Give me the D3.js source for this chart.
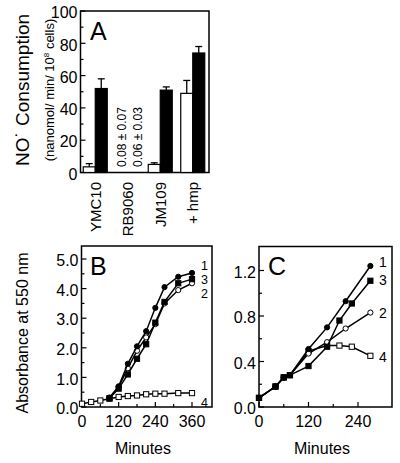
<!DOCTYPE html>
<html><head><meta charset="utf-8">
<script src="https://cdn.jsdelivr.net/npm/d3@7"></script>
<style>body{margin:0;background:#fff}svg{display:block;font-family:"Liberation Sans",Arial,Helvetica,sans-serif}</style>
</head><body><svg id="c" width="400" height="463"></svg>
<script>
// Panel A
const catsA = ["YMC10","RB9060","JM109","+ hmp"];
const openA = [3.5, null, 5, 49];
const openErrA = [5.5, null, 6, 57];
const filledA = [52, null, 51, 74];
const filledErrA = [58, null, 53, 78];
const ticksA = [0,20,40,60,80,100];
const notesA = ["0.08 \u00b1 0.07","0.06 \u00b1 0.03"];
// Panel B
const timesB4 = [0,30,60,90,120,150,180,210,240,270,315,360];
const B4 = [0.11,0.17,0.22,0.28,0.34,0.37,0.39,0.43,0.45,0.45,0.47,0.47];
const timesB = [90,120,150,180,210,240,270,315,360];
const B1 = [0.32,0.70,1.46,2.05,2.56,3.35,4.05,4.40,4.53];
const B3 = [0.30,0.62,1.10,1.63,2.12,2.85,3.55,4.18,4.32];
const B2 = [0.30,0.67,1.31,1.90,2.35,2.80,3.50,3.95,4.18];
const ticksBy = [0,1,2,3,4,5];
const ticksBx = [0,120,240,360];
// Panel C
const timesC4 = [0,40,60,75,120,165,195,225,270];
const C4 = [0.08,0.18,0.26,0.28,0.49,0.54,0.54,0.53,0.45];
const timesC1 = [0,40,60,75,120,165,210,270];
const C1 = [0.08,0.18,0.26,0.28,0.51,0.70,0.93,1.24];
const timesC3 = [0,40,60,75,120,165,195,225,270];
const C3 = [0.08,0.18,0.26,0.28,0.36,0.53,0.76,0.91,1.11];
const timesC2 = [0,40,60,75,120,165,210,270];
const C2 = [0.08,0.18,0.26,0.28,0.47,0.57,0.69,0.83];
const ticksCy = [0,0.4,0.8,1.2];
const ticksCx = [0,120,240];

const svg = d3.select("#c");

function frame(x0,x1,y0,y1){
  svg.append("rect").attr("x",x0).attr("y",y0).attr("width",x1-x0).attr("height",y1-y0)
    .attr("fill","none").attr("stroke","#000").attr("stroke-width",1.5);
}
function yTicks(scale, x0, major, minor, fmt, fs){
  const g = svg.append("g");
  minor.forEach(v=>g.append("line").attr("x1",x0).attr("x2",x0+3).attr("y1",scale(v)).attr("y2",scale(v)).attr("stroke","#000").attr("stroke-width",1.2));
  major.forEach(v=>{
    g.append("line").attr("x1",x0).attr("x2",x0+5).attr("y1",scale(v)).attr("y2",scale(v)).attr("stroke","#000").attr("stroke-width",1.2);
    g.append("text").attr("x",x0-3).attr("y",scale(v)+1.5).attr("dy","0.36em").attr("text-anchor","end").attr("font-size",fs).text(fmt(v));
  });
}
function xTicks(scale, y0, major, minor, fs){
  const g = svg.append("g");
  minor.forEach(v=>g.append("line").attr("x1",scale(v)).attr("x2",scale(v)).attr("y1",y0).attr("y2",y0-3).attr("stroke","#000").attr("stroke-width",1.2));
  major.forEach(v=>{
    g.append("line").attr("x1",scale(v)).attr("x2",scale(v)).attr("y1",y0).attr("y2",y0-5).attr("stroke","#000").attr("stroke-width",1.2);
    g.append("text").attr("x",scale(v)).attr("y",y0+20).attr("text-anchor","middle").attr("font-size",fs).text(v);
  });
}

// ---------- Panel A ----------
const xA = d3.scaleBand().domain(catsA).range([79,209]);
const yA = d3.scaleLinear().domain([0,100]).range([172.5,11]);
frame(80.5,209,11,172.5);
yTicks(yA,80.5,ticksA,[10,30,50,70,90],d=>d,16);
const bw = 12;
catsA.forEach((c,i)=>{
  const cx = xA(c)+xA.bandwidth()/2;
  if(openA[i]!=null){
    [[cx-bw,openA[i],openErrA[i]],[cx,filledA[i],filledErrA[i]]].forEach(([bx,v,e])=>{
      svg.append("line").attr("x1",bx+bw/2).attr("x2",bx+bw/2).attr("y1",yA(v)).attr("y2",yA(e)).attr("stroke","#000").attr("stroke-width",1.3);
      svg.append("line").attr("x1",bx+bw/2-3.5).attr("x2",bx+bw/2+3.5).attr("y1",yA(e)).attr("y2",yA(e)).attr("stroke","#000").attr("stroke-width",1.3);
    });
    svg.append("rect").attr("x",cx-bw).attr("y",yA(openA[i])).attr("width",bw).attr("height",yA(0)-yA(openA[i]))
      .attr("fill","#fff").attr("stroke","#000").attr("stroke-width",1.2);
    svg.append("rect").attr("x",cx).attr("y",yA(filledA[i])).attr("width",bw).attr("height",yA(0)-yA(filledA[i]))
      .attr("fill","#000").attr("stroke","#000").attr("stroke-width",1.2);
  }
  svg.append("text").attr("transform",`translate(${cx+5.5},182) rotate(-90)`).attr("text-anchor","end")
    .attr("font-size",15).text(c);
});
{
  const cx = xA("RB9060")+xA.bandwidth()/2;
  notesA.forEach((t,j)=>{
    svg.append("text").attr("transform",`translate(${cx-2+j*16},167) rotate(-90)`).attr("text-anchor","start")
      .attr("font-size",12).text(t);
  });
}
svg.append("text").attr("x",90).attr("y",40).attr("font-size",25).text("A");
svg.append("text").attr("transform","translate(29,90) rotate(-90)").attr("text-anchor","middle").attr("font-size",19)
  .text("NO\u02d9 Consumption");
svg.append("text").attr("transform","translate(54,90) rotate(-90)").attr("text-anchor","middle").attr("font-size",13)
  .html("(nanomol/ min/ 10<tspan dy='-5' font-size='8'>8</tspan><tspan dy='5'> cells)</tspan>");

// ---------- Panel B ----------
const xB = d3.scaleLinear().domain([0,360]).range([82,192]);
const yB = d3.scaleLinear().domain([0,5]).range([407,259]);
frame(81.5,212,246,407);
yTicks(yB,81.5,ticksBy,[0.5,1.5,2.5,3.5,4.5],d=>d.toFixed(1),16);
xTicks(xB,407,ticksBx,[60,180,300],16);
svg.append("text").attr("x",90).attr("y",275).attr("font-size",25).text("B");
svg.append("text").attr("transform","translate(28,333) rotate(-90)").attr("text-anchor","middle").attr("font-size",16).text("Absorbance at 550 nm");
svg.append("text").attr("x",143).attr("y",454).attr("text-anchor","middle").attr("font-size",16).text("Minutes");

function series(xs, ys, xsc, ysc, shape){
  const line = d3.line().x((d,i)=>xsc(xs[i])).y(d=>ysc(d));
  svg.append("path").attr("d",line(ys)).attr("fill","none").attr("stroke","#000").attr("stroke-width",1.5);
  ys.forEach((v,i)=>{
    const x = xsc(xs[i]), y = ysc(v);
    if(shape==="fc"||shape==="oc"){
      svg.append("circle").attr("cx",x).attr("cy",y).attr("r",2.6)
        .attr("fill",shape==="fc"?"#000":"#fff").attr("stroke","#000").attr("stroke-width",1);
    } else {
      svg.append("rect").attr("x",x-2.6).attr("y",y-2.6).attr("width",5.2).attr("height",5.2)
        .attr("fill",shape==="fs"?"#000":"#fff").attr("stroke","#000").attr("stroke-width",1);
    }
  });
}
series(timesB4,B4,xB,yB,"os");
series(timesB,B2,xB,yB,"oc");
series(timesB,B3,xB,yB,"fs");
series(timesB,B1,xB,yB,"fc");
[["1",265],["3",279],["2",293],["4",402]].forEach(([t,y])=>
  svg.append("text").attr("x",201).attr("y",y+4.5).attr("font-size",12.5).text(t));

// ---------- Panel C ----------
const xC = d3.scaleLinear().domain([0,240]).range([259,358]);
const yC = d3.scaleLinear().domain([0,1.2]).range([407,270.5]);
frame(259,392,246.5,407);
yTicks(yC,259,ticksCy,[0.2,0.6,1.0],d=>d.toFixed(1),16);
xTicks(xC,407,ticksCx,[60,180],16);
svg.append("text").attr("x",268).attr("y",275).attr("font-size",25).text("C");
svg.append("text").attr("x",322).attr("y",454).attr("text-anchor","middle").attr("font-size",16).text("Minutes");
series(timesC4,C4,xC,yC,"os");
series(timesC2,C2,xC,yC,"oc");
series(timesC3,C3,xC,yC,"fs");
series(timesC1,C1,xC,yC,"fc");
[["1",262],["3",280],["2",313],["4",357]].forEach(([t,y])=>
  svg.append("text").attr("x",379).attr("y",y+5).attr("font-size",14).text(t));
</script></body></html>
